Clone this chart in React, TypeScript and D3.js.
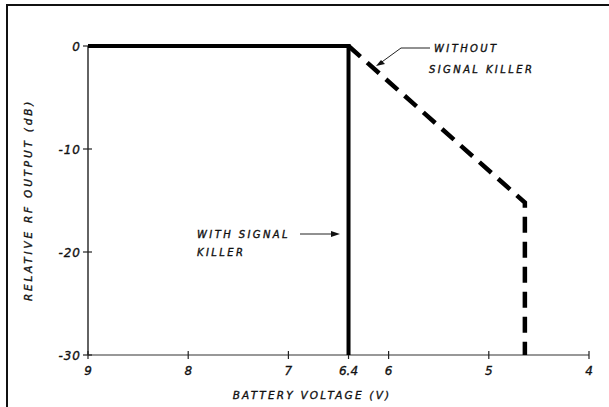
import { useRef, useEffect } from "react";
import * as d3 from "d3";

// ── Data ─────────────────────────────────────────────────────────────────
const xTicks = [9, 8, 7, 6.4, 6, 5, 4];
const yTicks = [0, -10, -20, -30];

type Pt = { v: number; db: number };

// solid: with signal killer
const withKiller: Pt[] = [
  { v: 9, db: 0 },
  { v: 6.4, db: 0 },
  { v: 6.4, db: -30 },
];
// dashed: without signal killer
const withoutKiller: Pt[] = [
  { v: 6.4, db: 0 },
  { v: 4.64, db: -15.2 },
  { v: 4.64, db: -30 },
];

const W = 609;
const H = 407;
const FONT = "'DejaVu Sans', sans-serif";

export default function App() {
  const svgRef = useRef<SVGSVGElement>(null);

  useEffect(() => {
    if (!svgRef.current) return;
    const svg = d3.select(svgRef.current);
    svg.selectAll("*").remove();

    const x = d3.scaleLinear().domain([9, 4]).range([88, 589]);
    const y = d3.scaleLinear().domain([0, -30]).range([46, 355]);

    // outer frame (left + top edges visible)
    svg
      .append("path")
      .attr("d", `M7,${H} L7,5 L${W},5`)
      .attr("fill", "none")
      .attr("stroke", "#111")
      .attr("stroke-width", 2);

    const g = svg.append("g");

    // axes
    g.append("line")
      .attr("x1", x(9))
      .attr("x2", x(4))
      .attr("y1", y(-30))
      .attr("y2", y(-30))
      .attr("stroke", "#333")
      .attr("stroke-width", 1.2);
    g.append("line")
      .attr("x1", x(9))
      .attr("x2", x(9))
      .attr("y1", y(0))
      .attr("y2", y(-30))
      .attr("stroke", "#222")
      .attr("stroke-width", 1.4);

    // cross ticks
    g.selectAll(".xt")
      .data(xTicks)
      .join("line")
      .attr("x1", (d) => x(d))
      .attr("x2", (d) => x(d))
      .attr("y1", y(-30) - 4)
      .attr("y2", y(-30) + 4)
      .attr("stroke", "#222")
      .attr("stroke-width", 1.2);
    g.selectAll(".yt")
      .data(yTicks)
      .join("line")
      .attr("x1", x(9) - 5)
      .attr("x2", x(9) + 4)
      .attr("y1", (d) => y(d))
      .attr("y2", (d) => y(d))
      .attr("stroke", "#222")
      .attr("stroke-width", 1.2);

    const txt = (sel: d3.Selection<any, any, any, any>, size: number) =>
      sel
        .attr("font-family", FONT)
        .attr("font-style", "italic")
        .attr("font-size", size)
        .attr("fill", "#111")
        .attr("stroke", "#111")
        .attr("stroke-width", 0.35);

    txt(
      g
        .selectAll(".xl")
        .data(xTicks)
        .join("text")
        .attr("x", (d) => x(d))
        .attr("y", 375)
        .attr("text-anchor", "middle")
        .text((d) => String(d)),
      12
    );
    txt(
      g
        .selectAll(".yl")
        .data(yTicks)
        .join("text")
        .attr("x", 81)
        .attr("y", (d) => y(d) + 4.5)
        .attr("text-anchor", "end")
        .attr("letter-spacing", 1)
        .text((d) => (d === 0 ? "0" : `-${Math.abs(d)}`)),
      12
    );

    // axis titles
    txt(
      g
        .append("text")
        .attr("x", 312)
        .attr("y", 399)
        .attr("text-anchor", "middle")
        .attr("letter-spacing", 2.2)
        .text("BATTERY VOLTAGE (V)"),
      10.5
    );
    txt(
      g
        .append("text")
        .attr("transform", "translate(32,200) rotate(-90)")
        .attr("text-anchor", "middle")
        .attr("letter-spacing", 2.8)
        .text("RELATIVE RF OUTPUT (dB)"),
      10.5
    );

    const line = d3
      .line<Pt>()
      .x((d) => x(d.v))
      .y((d) => y(d.db));

    g.append("path")
      .attr("d", line(withKiller))
      .attr("fill", "none")
      .attr("stroke", "#000")
      .attr("stroke-width", 4)
      .attr("stroke-linejoin", "miter");

    g.append("path")
      .attr("d", line(withoutKiller))
      .attr("fill", "none")
      .attr("stroke", "#000")
      .attr("stroke-width", 4.5)
      .attr("stroke-dasharray", "16 9");

    // annotations
    const ann = g.append("g");
    txt(ann.append("text").attr("x", 434).attr("y", 52).attr("letter-spacing", 2.4).text("WITHOUT"), 10);
    txt(ann.append("text").attr("x", 429).attr("y", 73).attr("letter-spacing", 2.4).text("SIGNAL KILLER"), 10);
    ann
      .append("path")
      .attr("d", "M430,48 L401,48 L379,64")
      .attr("fill", "none")
      .attr("stroke", "#222")
      .attr("stroke-width", 1);
    ann
      .append("path")
      .attr("d", "M376,66 L385,64 L381,60 Z")
      .attr("fill", "#111");

    txt(ann.append("text").attr("x", 197).attr("y", 238).attr("letter-spacing", 2.4).text("WITH SIGNAL"), 10);
    txt(ann.append("text").attr("x", 197).attr("y", 256).attr("letter-spacing", 2.4).text("KILLER"), 10);
    ann
      .append("line")
      .attr("x1", 300)
      .attr("x2", 332)
      .attr("y1", 234)
      .attr("y2", 234)
      .attr("stroke", "#222")
      .attr("stroke-width", 1);
    ann
      .append("path")
      .attr("d", "M340,234 L331,231 L331,237 Z")
      .attr("fill", "#111");
  }, []);

  return (
    <svg
      ref={svgRef}
      width={W}
      height={H}
      style={{ position: "absolute", left: 0, top: 0, background: "#fff" }}
    />
  );
}
